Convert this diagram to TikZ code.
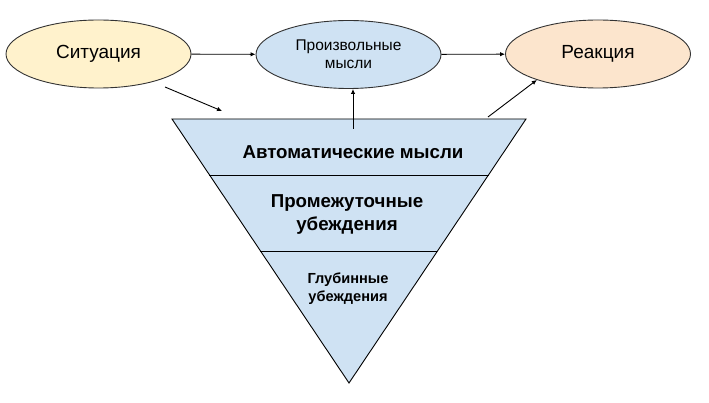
\documentclass[tikz,border=0pt]{standalone}
\usepackage{fontspec}
\setmainfont{Liberation Sans}
\usetikzlibrary{arrows.meta,shapes.geometric}
\definecolor{yel}{HTML}{FFF2CC}
\definecolor{blu}{HTML}{CFE2F3}
\definecolor{pea}{HTML}{FCE5CD}
\definecolor{edge}{HTML}{333333}
\tikzset{
  oval/.style={ellipse, draw=edge, line width=0.9pt, minimum width=185pt, minimum height=68pt, inner sep=0pt, align=center},
  arr/.style={line width=0.9pt, -{Latex[length=5pt,width=4.5pt]}},
  lab/.style={align=center, inner sep=0pt, font=\bfseries}
}
\begin{document}
\begin{tikzpicture}[x=1pt,y=-1pt]
\useasboundingbox[fill=white] (0,0) rectangle (709,403);
% triangle
\coordinate (tl) at (172,119);
\coordinate (tr) at (526,119);
\coordinate (tb) at (349,383);
\filldraw[fill=blu, draw=black, line width=0.9pt, line join=miter] (tl) -- (tr) -- (tb) -- cycle;
\coordinate (l1a) at (209,175); \coordinate (l1b) at (489,175);
\coordinate (l2a) at (260,251); \coordinate (l2b) at (437,251);
\draw[line width=0.9pt] (l1a) -- (l1b);
\draw[line width=0.9pt] (l2a) -- (l2b);
\node[lab, font=\bfseries\fontsize{18.7}{21}\selectfont] (auto) at (353,152) {Автоматические мысли};
\node[lab, font=\bfseries\fontsize{18.7}{23}\selectfont] (inter) at (347,215) {Промежуточные\\убеждения};
\node[lab, font=\bfseries\fontsize{14.6}{18}\selectfont] (deep) at (348,289) {Глубинные\\убеждения};
% ellipses
\node[oval, fill=yel, font=\fontsize{19}{22}\selectfont] (sit) at (98.5,54) {Ситуация};
\node[oval, fill=blu, font=\fontsize{15.5}{18}\selectfont] (arb) at (348.5,54.5) {Произвольные\\мысли};
\node[oval, fill=pea, font=\fontsize{19}{22}\selectfont] (rea) at (598,54) {Реакция};
% arrows
\draw[arr] (sit) -- (arb);
\draw[arr] (arb) -- (rea);
\coordinate (s1) at (165,87);
\coordinate (t1) at (222,111);
\draw[arr] (s1) -- (t1);
\coordinate (t3) at (353,129);
\draw[arr] (t3) -- (t3 |- arb.south);
\coordinate (t2) at (488,117);
\draw[arr] (t2) -- (rea.-157);
\end{tikzpicture}
\end{document}
